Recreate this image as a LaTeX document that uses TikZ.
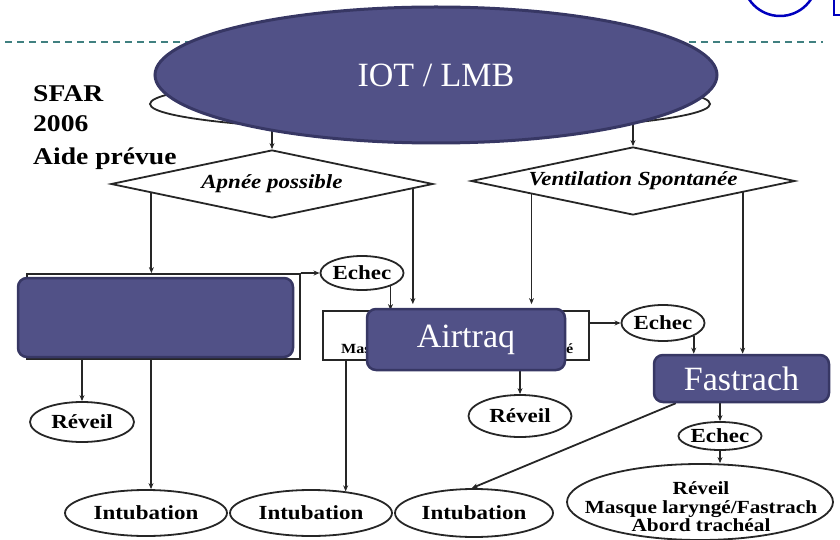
\documentclass[tikz,border=0pt]{standalone}
\usepackage{fontspec}
\setmainfont{Liberation Serif}
\newfontfamily\dfont[FakeStretch=1.15]{Liberation Serif}
\usetikzlibrary{shapes.geometric,arrows.meta,calc}
\pgfdeclarelayer{front}
\pgfsetlayers{main,front}
\definecolor{ovfill}{RGB}{81,81,135}
\definecolor{ovdraw}{RGB}{55,55,100}
\definecolor{dashteal}{RGB}{64,128,128}
\definecolor{blueC}{RGB}{0,0,190}
\begin{document}
\begin{tikzpicture}[x=1pt,y=-1pt,
  ln/.style={line width=1.8pt,draw=black!85},
  arr/.style={ln,-{Stealth[length=6pt,width=5pt]}},
  oval/.style={ellipse,ln,inner sep=0pt,font=\dfont\bfseries\fontsize{20}{22}\selectfont},
  dia/.style={diamond,ln,inner sep=0pt,aspect=4.7,font=\dfont\bfseries\itshape\fontsize{20}{22}\selectfont},
  boxr/.style={rectangle,ln,inner sep=0pt},
  ovl/.style={rectangle,rounded corners=9pt,fill=ovfill,draw=ovdraw,line width=2.5pt,text=white,font=\fontsize{34}{36}\selectfont,inner sep=0pt},
  side/.style={anchor=base west,inner sep=0pt,font=\dfont\bfseries\fontsize{24}{26}\selectfont}]
\useasboundingbox (0,0) rectangle (840,540);

% header decoration
\draw[dashteal,line width=2pt,dash pattern=on 7pt off 5pt] (5,42) -- (823,42);
\draw[blueC,line width=2.5pt] (780,-21) circle[radius=37];
\draw[blueC,line width=2.5pt] (834,-2) -- (834,15) -- (842,15);

% side texts
\node[side] (t1) at (33,102) {SFAR};
\node[side] (t2) at (33,132) {2006};
\node[side] (t3) at (33,165) {Aide prévue};

% original flowchart
\node[ellipse,ln,minimum width=560pt,minimum height=54pt,inner sep=0pt] (oval0) at (430,104) {};
\node[dia,minimum width=322pt,minimum height=68pt] (dA) at (272,184) {Apnée possible};
\node[dia,minimum width=324pt,minimum height=68pt] (dV) at (633,181) {Ventilation Spontanée};
\node[boxr,minimum width=273pt,minimum height=85pt] (box1) at (163.5,316.5) {};
\node[boxr,minimum width=266pt,minimum height=49pt] (mbox) at (456,335.5) {};
\node[anchor=base west,inner sep=0pt,font=\dfont\bfseries\fontsize{14}{16}\selectfont] (mtxt) at (341,353) {\makebox[232pt]{Masque\hfill laryngé}};
\node[oval,minimum width=80pt,minimum height=34pt] (e1) at (362,273) {Echec};
\node[oval,minimum width=80pt,minimum height=36pt] (e2) at (663,323) {Echec};
\node[oval,minimum width=104pt,minimum height=40pt] (r1) at (82,422) {Réveil};
\node[oval,minimum width=103pt,minimum height=42pt] (r2) at (520,416) {Réveil};
\node[oval,minimum width=81pt,minimum height=28pt] (e3) at (720,436) {Echec};
\node[oval,minimum width=162pt,minimum height=46pt] (i1) at (146,513) {Intubation};
\node[oval,minimum width=162pt,minimum height=46pt] (i2) at (311,513) {Intubation};
\node[oval,minimum width=158pt,minimum height=48pt] (i3) at (474,513) {Intubation};
\node[ellipse,ln,inner sep=0pt,minimum width=266pt,minimum height=76pt] (fin) at (700,502) {};
\node[align=center,inner sep=0pt,font=\dfont\bfseries\fontsize{18.5}{18.5}\selectfont] (fintxt) at (701,507) {Réveil\\Masque laryngé/Fastrach\\Abord trachéal};

% overlay shapes (front layer)
\begin{pgfonlayer}{front}
\node[ellipse,fill=ovfill,draw=ovdraw,line width=3pt,minimum width=562pt,minimum height=136pt,inner sep=0pt,text=white,font=\fontsize{34}{36}\selectfont] (iot) at (436,75) {IOT / LMB};
\node[ovl,minimum width=275pt,minimum height=79pt] (ov1) at (155.5,317.5) {};
\node[ovl,minimum width=198pt,minimum height=61pt] (ov2) at (466,339.5) {Airtraq};
\node[ovl,minimum width=175pt,minimum height=47pt] (ov3) at (741.5,378.5) {Fastrach};
\end{pgfonlayer}

% connectors
\draw[arr] (oval0.188 -| dA.north) -- (dA.north);
\draw[arr] (oval0.-5 -| dV.north) -- (dV.north);
\draw[arr] ($(dA.west)!0.255!(dA.south)$) coordinate (pa) -- (pa |- box1.north);
\draw[arr,shorten >=6pt] ($(dA.east)!0.13!(dA.south)$) coordinate (pb) -- (pb |- mbox.north);
\draw[arr,shorten >=6pt] ($(dV.west)!0.377!(dV.south)$) coordinate (pc) -- (pc |- mbox.north);
\draw[arr] ($(dV.east)!0.327!(dV.south)$) coordinate (pd) -- (pd |- ov3.north);
\draw[arr] (box1.north east) -- (e1.west);
\draw[arr] (e1.-25) -- (e1.-25 |- mbox.north);
\draw[arr] (mbox.east |- e2.west) -- (e2.west);
\draw[arr] (e2.-23) -- (e2.-23 |- ov3.north);
\draw[arr] (r1.north |- box1.south) -- (r1.north);
\draw[arr] ([xshift=5pt]i1.north |- box1.south) -- ([xshift=5pt]i1.north);
\draw[arr] (i2.32 |- mbox.south) -- (i2.32);
\draw[arr] (r2.north |- ov2.south) -- (r2.north);
\draw[arr] (e3.north |- ov3.south) -- (e3.north);
\draw[arr] (e3.south) -- (e3.south |- fin.north);
\draw[arr] ($(ov3.south west)+(23,0)$) -- (i3.95);
\end{tikzpicture}
\end{document}
